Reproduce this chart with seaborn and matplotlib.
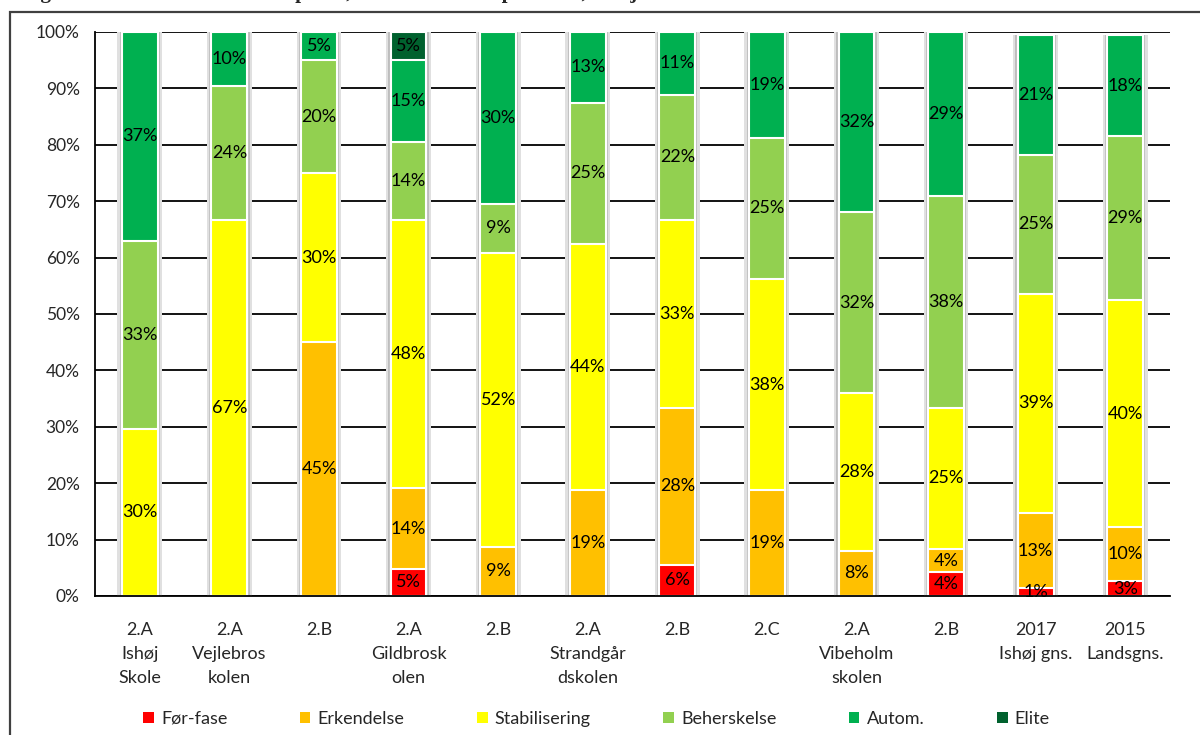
import numpy as np
import pandas as pd
import seaborn as sns
import matplotlib.pyplot as plt
from matplotlib.patches import Rectangle, Patch
from matplotlib.ticker import FuncFormatter, FixedLocator

# Data (percent of pupils in each reading phase)
categories = ["2.A\nIshøj\nSkole", "2.A\nVejlebros\nkolen", "2.B", "2.A\nGildbrosk\nolen", "2.B",
              "2.A\nStrandgår\ndskolen", "2.B", "2.C", "2.A\nVibeholm\nskolen", "2.B",
              "2017\nIshøj gns.", "2015\nLandsgns."]
phases = ["Før-fase", "Erkendelse", "Stabilisering", "Beherskelse", "Autom.", "Elite"]
for_fase = [0, 0, 0, 4.8, 0, 0, 5.56, 0, 0, 4.17, 1.4, 2.6]
erkendelse = [0, 0, 45, 14.3, 8.7, 18.75, 27.78, 18.75, 8, 4.17, 13.3, 9.6]
stabilisering = [29.63, 66.67, 30, 47.6, 52.17, 43.75, 33.33, 37.5, 28, 25, 38.9, 40.2]
beherskelse = [33.33, 23.81, 20, 13.8, 8.7, 25, 22.22, 25, 32, 37.5, 24.6, 29.1]
autom = [37.04, 9.52, 5, 14.6, 30.43, 12.5, 11.11, 18.75, 32, 29.17, 21.2, 18.0]
elite = [0, 0, 0, 4.9, 0, 0, 0, 0, 0, 0, 0, 0]
colors = ["#FF0000", "#FFC000", "#FFFF00", "#92D050", "#00B050", "#00612E"]

series = [for_fase, erkendelse, stabilisering, beherskelse, autom, elite]
df = pd.DataFrame({"pos": range(len(categories))})
for name, vals in zip(phases, series):
    df[name] = vals
cum = df[phases].cumsum(axis=1)
for name in phases:
    df["top_" + name] = cum[name]

sns.set_style("white")
plt.rcParams["font.family"] = ["Lato", "DejaVu Sans"]

fig = plt.figure(figsize=(12, 7.35), dpi=100)
ax = fig.add_axes([95 / 1200, 1 - 596 / 735, 1075 / 1200, 564 / 735])

# shadow behind the bars
sns.barplot(data=df, x="pos", y="top_Elite", color="#e0e0e0", width=0.5, ax=ax,
            linewidth=0, saturation=1, zorder=2)
sns.barplot(data=df, x="pos", y="top_Elite", color="#bdbdbd", width=0.45, ax=ax,
            linewidth=0, saturation=1, zorder=2)

# stacked bars: draw cumulative tops from the highest phase down
for name, col in reversed(list(zip(phases, colors))):
    sns.barplot(data=df, x="pos", y="top_" + name, color=col, width=0.4, ax=ax,
                edgecolor="white", linewidth=1.5, saturation=1, zorder=3)

# percentage labels
for i in range(len(categories)):
    bottom = 0
    for name in phases:
        v = df.loc[i, name]
        if v > 0:
            ax.text(i, bottom + v / 2, f"{int(v + 0.5)}%", ha="center", va="center",
                    fontsize=13, color="black", zorder=5)
        bottom += v

ax.set_ylim(0, 100)
ax.set_xlim(-0.5, len(categories) - 0.5)
ax.yaxis.set_major_locator(FixedLocator(np.arange(0, 101, 10)))
ax.yaxis.set_major_formatter(FuncFormatter(lambda v, p: f"{v:.0f}%"))
ax.set_xticks(range(len(categories)))
ax.set_xticklabels(categories, fontsize=13, linespacing=1.6)
ax.set_xticks(np.arange(-0.5, len(categories), 1), minor=True)
ax.tick_params(axis="x", which="major", length=0, pad=19)
ax.tick_params(axis="x", which="minor", length=7, width=1.3, color="black", direction="out")
ax.tick_params(axis="y", length=5, width=1.3, color="black", direction="out", labelsize=12.5, pad=6)
ax.set_xlabel("")
ax.set_ylabel("")
ax.grid(axis="y", color="black", linewidth=1.3)
ax.set_axisbelow(True)
for s in ["top", "right"]:
    ax.spines[s].set_visible(False)
for s in ["left", "bottom"]:
    ax.spines[s].set_color("black")
    ax.spines[s].set_linewidth(1.3)
    ax.spines[s].set_zorder(4)

handles = [Patch(facecolor=c, edgecolor="none", label=n) for n, c in zip(phases, colors)]
fig.legend(handles=handles, loc="center", bbox_to_anchor=(0.497, 1 - 719 / 735), ncol=6,
           frameon=False, fontsize=13, handlelength=0.6, handleheight=0.6,
           handletextpad=0.4, columnspacing=4.0)

# outer frame of the chart area and the caption above it (cut by the page edge)
fig.add_artist(Rectangle((10 / 1200, -0.1), 1.2, 1.1 - 12 / 735, transform=fig.transFigure,
                         fill=False, edgecolor="#404040", linewidth=1.6))
fig.text(0.018, 1 + 2 / 735, "Figur 1: Resultater af Ordlæseprøve, 2. klasse fordelt på skoler, Ishøj 2017",
         family="Liberation Serif", fontweight="bold", fontsize=15, va="baseline", ha="left")

fig.savefig("out.png", dpi=100)
